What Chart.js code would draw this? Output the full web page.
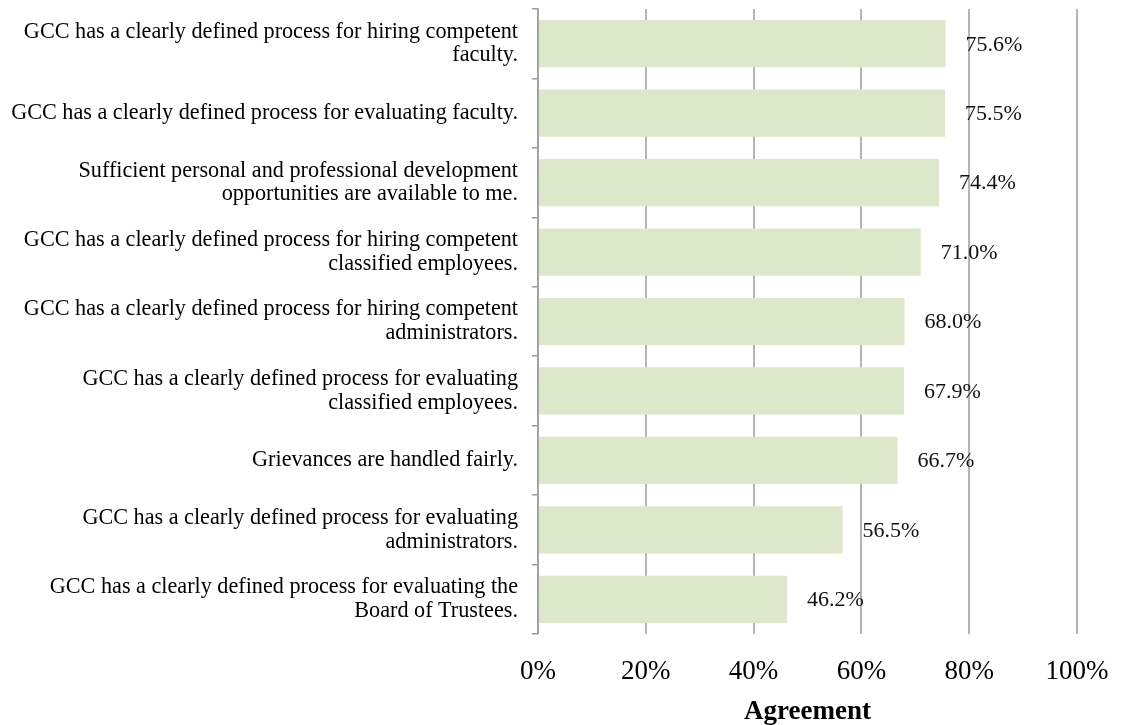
<!DOCTYPE html>
<html>
<head>
<meta charset="utf-8">
<script src="https://cdn.jsdelivr.net/npm/chart.js@4/dist/chart.umd.min.js"></script>
<style>
  html, body { margin: 0; padding: 0; background: #ffffff; }
  canvas { display: block; }
</style>
</head>
<body>
<canvas id="chart" width="1121" height="725"></canvas>
<script>
// Survey statements (multi-line labels), top to bottom
const categories = [
  ["GCC has a clearly defined process for hiring competent", "faculty."],
  "GCC has a clearly defined process for evaluating faculty.",
  ["Sufficient personal and professional development", "opportunities are available to me."],
  ["GCC has a clearly defined process for hiring competent", "classified employees."],
  ["GCC has a clearly defined process for hiring competent", "administrators."],
  ["GCC has a clearly defined process for evaluating", "classified employees."],
  "Grievances are handled fairly.",
  ["GCC has a clearly defined process for evaluating", "administrators."],
  ["GCC has a clearly defined process for evaluating the", "Board of Trustees."]
];

// Percent agreeing with each statement
const agreement = [75.6, 75.5, 74.4, 71.0, 68.0, 67.9, 66.7, 56.5, 46.2];

// Horizontal axis tick labels
const tickLabels = ["0%", "20%", "40%", "60%", "80%", "100%"];

const FONT = "'Liberation Serif', 'Times New Roman', serif";

// Writes each bar's value just past its end
const valueLabels = {
  id: 'valueLabels',
  afterDatasetsDraw(chart) {
    const ctx = chart.ctx;
    const meta = chart.getDatasetMeta(0);
    ctx.save();
    ctx.font = "22px " + FONT;
    ctx.fillStyle = '#111111';
    ctx.textAlign = 'left';
    ctx.textBaseline = 'middle';
    meta.data.forEach((bar, i) => {
      const v = chart.data.datasets[0].data[i];
      ctx.fillText(v.toFixed(1) + '%', bar.x + 20, bar.y + 1);
    });
    ctx.restore();
  }
};

new Chart(document.getElementById('chart'), {
  type: 'bar',
  data: {
    labels: categories,
    datasets: [{
      data: agreement,
      backgroundColor: '#dde7ca',
      borderWidth: 0,
      barPercentage: 0.68,
      categoryPercentage: 1.0
    }]
  },
  options: {
    indexAxis: 'y',
    responsive: false,
    devicePixelRatio: 1,
    animation: false,
    layout: { padding: { top: 9, right: 44, left: 0, bottom: 0 } },
    plugins: {
      legend: { display: false },
      tooltip: { enabled: false }
    },
    scales: {
      x: {
        min: 0,
        max: 100,
        ticks: {
          stepSize: 20,
          color: '#000000',
          padding: 22,
          font: { family: FONT, size: 27 },
          callback: (value, index) => tickLabels[index]
        },
        grid: { drawTicks: false, color: '#b5b5b5', lineWidth: 2 },
        border: { display: false },
        title: {
          display: true,
          text: 'Agreement',
          color: '#000000',
          padding: { top: 0, bottom: -1 },
          font: { family: FONT, size: 27, weight: 'bold', lineHeight: 1.0 }
        },
        afterFit: (scale) => {
          scale.height = 91;
          scale.paddingLeft = 0;
          scale.paddingRight = 0;
        }
      },
      y: {
        ticks: {
          color: '#000000',
          padding: 14,
          autoSkip: false,
          font: { family: FONT, size: 22.2, lineHeight: 1.07 }
        },
        grid: {
          drawOnChartArea: false,
          drawTicks: true,
          tickLength: 6,
          offset: true,
          color: '#9c9c9c',
          lineWidth: 1.5
        },
        border: { display: true, color: '#9c9c9c', width: 1.5 },
        afterFit: (scale) => {
          scale.width = 538;
          scale.paddingTop = 0;
          scale.paddingBottom = 0;
        }
      }
    }
  },
  plugins: [valueLabels]
});
</script>
</body>
</html>
